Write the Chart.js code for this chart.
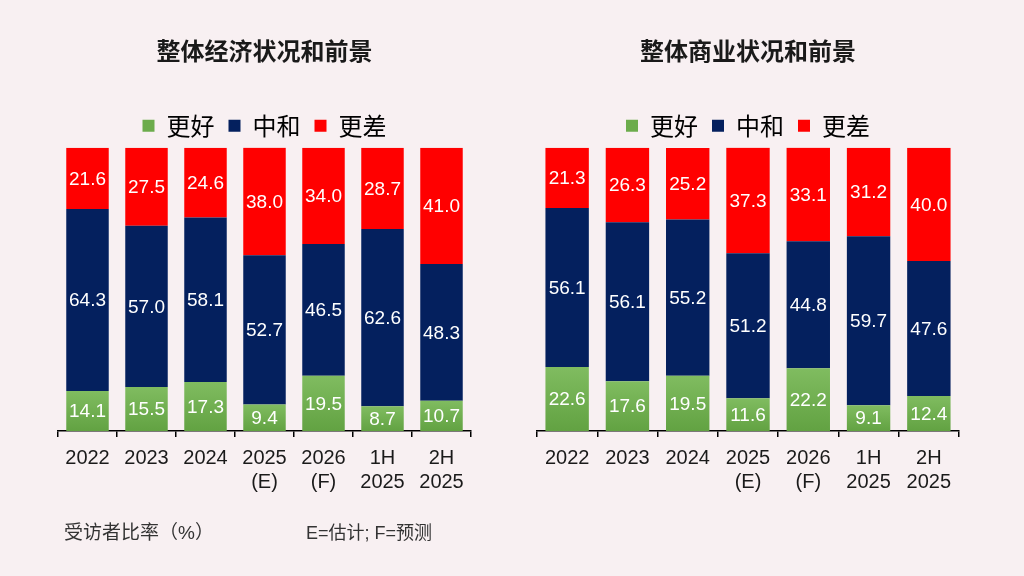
<!DOCTYPE html>
<html>
<head>
<meta charset="utf-8">
<script src="https://cdn.jsdelivr.net/npm/chart.js@4.4.1/dist/chart.umd.min.js"></script>
<style>
  body { margin: 0; background: #f8f0f2; }
  #wrap { position: relative; width: 1024px; height: 576px; overflow: hidden; }
  .box { position: absolute; top: 0; width: 512px; height: 576px; }
  .note { position: absolute; color: #333; font-family: "Liberation Sans", "Noto Sans CJK SC", sans-serif; white-space: nowrap; line-height: 24px; }
</style>
</head>
<body>
<div id="wrap">
  <div class="box" style="left:0"><canvas id="leftChart"></canvas></div>
  <div class="box" style="left:512px"><canvas id="rightChart"></canvas></div>
  <div class="note" style="left:64px; top:521px; font-size:19px;">受访者比率（%）</div>
  <div class="note" style="left:306px; top:521px; font-size:18px;">E=估计; F=预测</div>
</div>
<script>
// Categories (x axis labels, two lines where needed)
const categories = [['2022'], ['2023'], ['2024'], ['2025', '(E)'], ['2026', '(F)'], ['1H', '2025'], ['2H', '2025']];
const seriesNames = ['更好', '中和', '更差'];

// Overall economy
const econBetter  = [14.1, 15.5, 17.3, 9.4, 19.5, 8.7, 10.7];
const econNeutral = [64.3, 57.0, 58.1, 52.7, 46.5, 62.6, 48.3];
const econWorse   = [21.6, 27.5, 24.6, 38.0, 34.0, 28.7, 41.0];

// Overall business
const bizBetter  = [22.6, 17.6, 19.5, 11.6, 22.2, 9.1, 12.4];
const bizNeutral = [56.1, 56.1, 55.2, 51.2, 44.8, 59.7, 47.6];
const bizWorse   = [21.3, 26.3, 25.2, 37.3, 33.1, 31.2, 40.0];

const FONT = '"Liberation Sans", "Noto Sans CJK SC", sans-serif';
const CJK = '"Noto Sans CJK SC", "Liberation Sans", sans-serif';

// green bars get a light-to-dark gradient inside each bar
function greenFill(ctx) {
    const chart = ctx.chart;
    if (!chart.chartArea || ctx.type !== 'data') return '#6cac4c';
    const y = chart.scales.y;
    const top = y.getPixelForValue(ctx.parsed ? ctx.parsed.y : ctx.raw);
    const bottom = y.getPixelForValue(0);
    if (!isFinite(top) || !isFinite(bottom) || top === bottom) return '#6cac4c';
    const g = chart.ctx.createLinearGradient(0, top, 0, bottom);
    g.addColorStop(0, '#80bc60');
    g.addColorStop(1, '#62a242');
    return g;
}

// write the value in the middle of every segment
const valueLabels = {
    id: 'valueLabels',
    afterDatasetsDraw(chart) {
        const ctx = chart.ctx;
        ctx.save();
        ctx.font = '19px ' + FONT;
        ctx.fillStyle = '#ffffff';
        ctx.textAlign = 'center';
        ctx.textBaseline = 'middle';
        chart.data.datasets.forEach((ds, i) => {
            chart.getDatasetMeta(i).data.forEach((bar, j) => {
                ctx.fillText(ds.data[j].toFixed(1), bar.x, (bar.y + bar.base) / 2 + 1);
            });
        });
        ctx.restore();
    }
};

function makeChart(id, title, better, neutral, worse, padLeft, padRight) {
    const ctx = document.getElementById(id).getContext('2d');
    return new Chart(ctx, {
        type: 'bar',
        data: {
            labels: categories,
            datasets: [
                { label: seriesNames[0], data: better, backgroundColor: greenFill },
                { label: seriesNames[1], data: neutral, backgroundColor: '#04205e' },
                { label: seriesNames[2], data: worse, backgroundColor: '#ff0000' }
            ]
        },
        options: {
            responsive: true,
            maintainAspectRatio: false,
            animation: false,
            datasets: { bar: { categoryPercentage: 1, barPercentage: 0.72 } },
            layout: { padding: { top: 36, bottom: 73, left: padLeft, right: padRight } },
            plugins: {
                title: {
                    display: true,
                    text: title,
                    color: '#1a1a1a',
                    font: { family: CJK, size: 24, weight: 'bold' },
                    padding: { top: 0, bottom: 35 }
                },
                legend: {
                    display: true,
                    labels: {
                        color: '#333',
                        font: { family: CJK, size: 24 },
                        boxWidth: 12,
                        boxHeight: 12,
                        padding: 14,
                        generateLabels(chart) {
                            const cols = ['#6cac4c', '#04205e', '#ff0000'];
                            return chart.data.datasets.map((ds, i) => ({
                                text: ds.label, fillStyle: cols[i], strokeStyle: cols[i],
                                lineWidth: 0, datasetIndex: i, hidden: false
                            }));
                        }
                    }
                },
                tooltip: { enabled: false }
            },
            scales: {
                x: {
                    stacked: true,
                    grid: { display: true, drawOnChartArea: false, drawTicks: true, tickLength: 6, color: '#000', lineWidth: 1.5, offset: true },
                    border: { display: true, color: '#000', width: 1.5 },
                    ticks: { color: '#1a1a1a', font: { family: FONT, size: 20 }, padding: 9, maxRotation: 0, autoSkip: false }
                },
                y: {
                    stacked: true,
                    display: false,
                    min: 0,
                    max: 100
                }
            }
        },
        plugins: [valueLabels]
    });
}

makeChart('leftChart', '整体经济状况和前景', econBetter, econNeutral, econWorse, 58, 41);
makeChart('rightChart', '整体商业状况和前景', bizBetter, bizNeutral, bizWorse, 25, 65);
</script>
</body>
</html>
